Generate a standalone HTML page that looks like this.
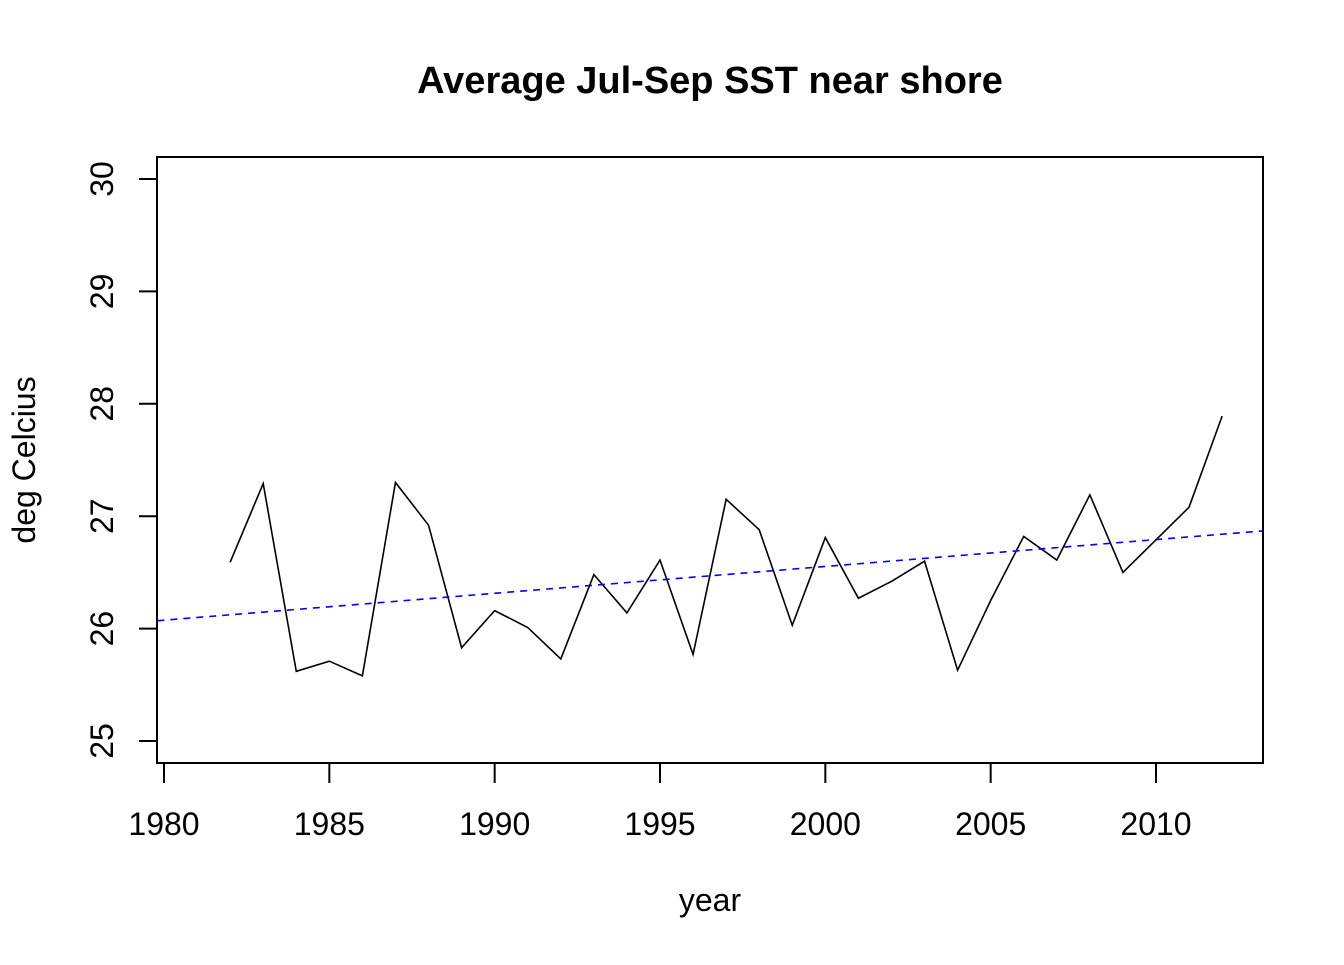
<!DOCTYPE html>
<html><head><meta charset="utf-8"><style>
html,body{margin:0;padding:0;background:#fff;}
svg text{font-family:"Liberation Sans",Arial,sans-serif;}
</style></head><body>
<svg id="chart" width="1344" height="960" viewBox="0 0 1344 960" xmlns="http://www.w3.org/2000/svg">
<text x="710" y="93" text-anchor="middle" font-size="38" font-weight="bold">Average Jul-Sep SST near shore</text>
<rect x="157" y="157" width="1106" height="606" fill="none" stroke="#000" stroke-width="2"/>
<g id="xaxis"></g>
<g id="yaxis"></g>
<text x="710" y="911" text-anchor="middle" font-size="32">year</text>
<text transform="translate(35,460) rotate(-90)" text-anchor="middle" font-size="32">deg Celcius</text>
<g id="series"></g>
</svg>
<script>
const years = [1982,1983,1984,1985,1986,1987,1988,1989,1990,1991,1992,1993,1994,1995,1996,1997,1998,1999,2000,2001,2002,2003,2004,2005,2006,2007,2008,2009,2010,2011,2012];
const sst = [26.59,27.29,25.62,25.71,25.58,27.30,26.92,25.83,26.16,26.01,25.73,26.48,26.14,26.61,25.77,27.15,26.88,26.03,26.81,26.27,26.42,26.60,25.63,26.25,26.82,26.61,27.19,26.50,26.79,27.08,27.89];
const xTicks = [1980,1985,1990,1995,2000,2005,2010];
const yTicks = [25,26,27,28,29,30];
const trendIntercept1980 = 26.075;
const trendSlope = 0.0239;

const NS = "http://www.w3.org/2000/svg";
const X = v => 164 + (v - 1980) * (1156 - 164) / 30;
const Y = v => 741 - (v - 25) * (741 - 179) / 5;
function mk(tag, attrs, parent){const e=document.createElementNS(NS,tag);for(const k in attrs)e.setAttribute(k,attrs[k]);parent.appendChild(e);return e;}

const xa = document.getElementById('xaxis');
xTicks.forEach(t=>{
  const l=mk('line',{x1:X(t),x2:X(t),y1:763,y2:783,stroke:'#000','stroke-width':2},xa);
  
  
  const tx=mk('text',{x:X(t),y:835,'text-anchor':'middle','font-size':32},xa);
  tx.textContent=t;
  
  
});
const ya = document.getElementById('yaxis');
yTicks.forEach(t=>{
  const l=mk('line',{x1:139,x2:157,y1:Y(t),y2:Y(t),stroke:'#000','stroke-width':2},ya);
  
  
  const tx=mk('text',{transform:`translate(113,${Y(t)}) rotate(-90)`,'text-anchor':'middle','font-size':32},ya);
  tx.textContent=t;
  
  
});
const s = document.getElementById('series');
const pts = years.map((y,i)=>X(y)+','+Y(sst[i])).join(' ');
const pl = mk('polyline',{points:pts,fill:'none',stroke:'#000','stroke-width':1.6},s);


const x0=1979.8, x1=2013.23;
const tl = mk('line',{x1:X(x0),y1:Y(trendIntercept1980+trendSlope*(x0-1980)),x2:X(x1),y2:Y(trendIntercept1980+trendSlope*(x1-1980)),stroke:'#0000ff','stroke-width':1.6,'stroke-dasharray':'7,6'},s);


</script>
</body></html>
